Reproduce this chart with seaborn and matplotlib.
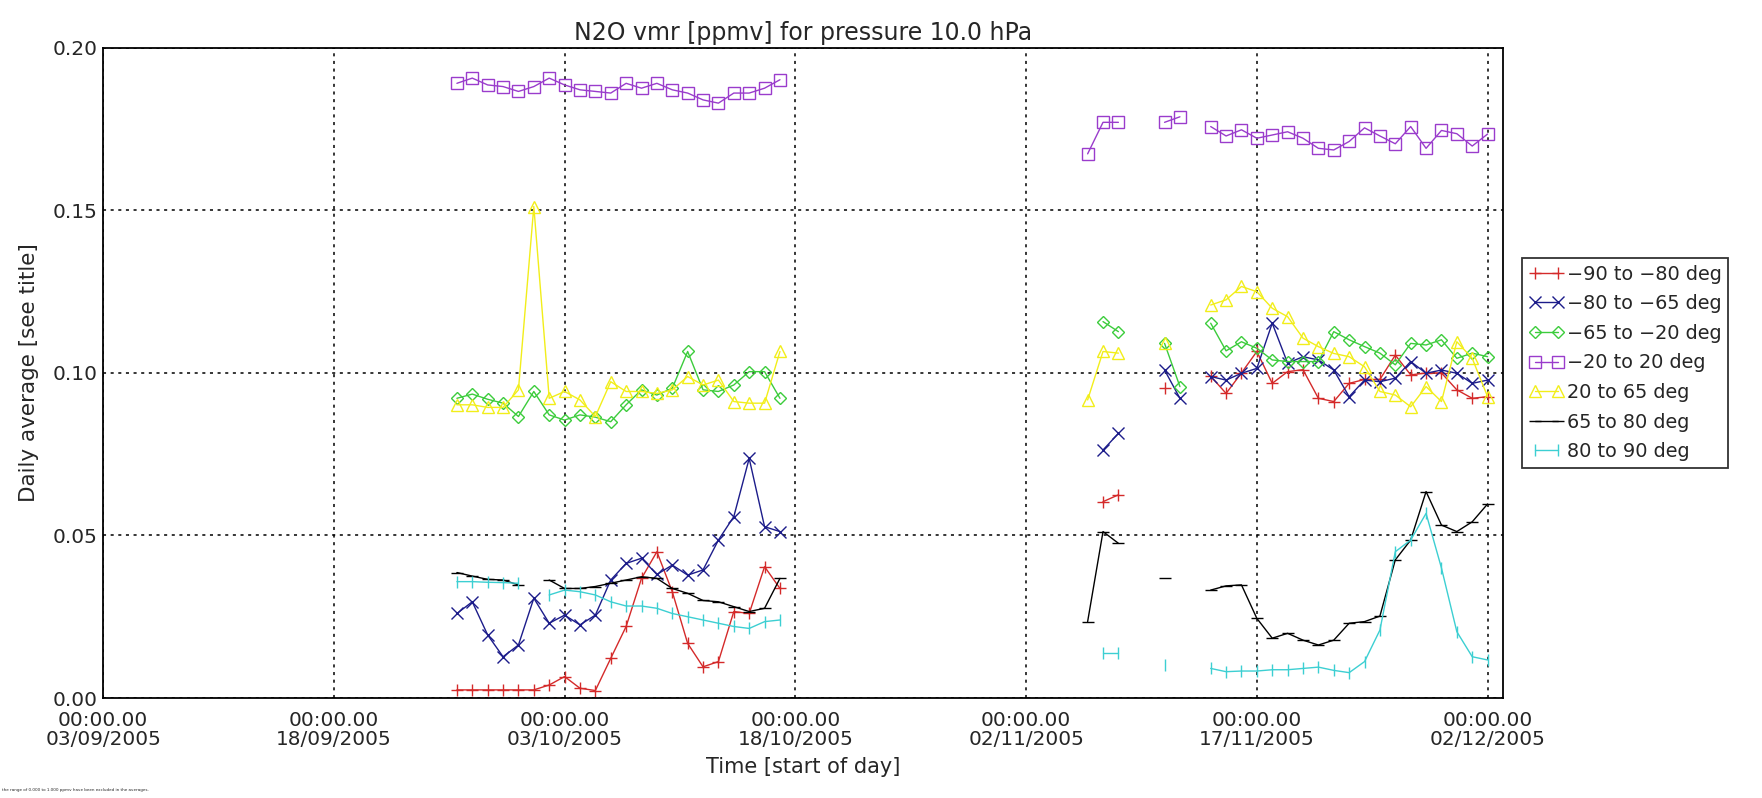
import numpy as np
import pandas as pd
import matplotlib
matplotlib.use("Agg")
import matplotlib.pyplot as plt
from matplotlib.lines import Line2D
import seaborn as sns

nan = np.nan

# --- Data (daily averages) ---
days_1 = pd.date_range("2005-09-26", "2005-10-17", freq="D")
days_2 = pd.date_range("2005-11-06", "2005-12-02", freq="D")
dates = days_1.append(days_2)

red_1 = [0.0025, 0.0025, 0.0025, 0.0025, 0.0025, 0.0025, 0.004, 0.0066, 0.003, 0.0023, 0.0122,
         0.022, 0.0368, 0.045, 0.0327, 0.0168, 0.0096, 0.0112, 0.0266, 0.026, 0.0404, 0.0337]
red_2 = [nan, 0.0604, 0.0625, nan, nan, 0.0953, nan, nan, 0.099, 0.0937, 0.100, 0.1066, 0.0968,
         0.1004, 0.101, 0.0922, 0.0912, 0.0968, 0.098, 0.098, 0.1055, 0.0994, 0.100, 0.100,
         0.0948, 0.0922, 0.0927]

blue_1 = [0.026, 0.0296, 0.0194, 0.0127, 0.0163, 0.0307, 0.023, 0.0255, 0.0225, 0.0255, 0.0363,
          0.0414, 0.043, 0.038, 0.0409, 0.0378, 0.0394, 0.0486, 0.0558, 0.0737, 0.0527, 0.0512]
blue_2 = [nan, 0.0763, 0.0814, nan, nan, 0.1009, 0.0922, nan, 0.0989, 0.0978, 0.0999, 0.1014,
          0.1153, 0.103, 0.105, 0.104, 0.1009, 0.0927, 0.0978, 0.0973, 0.0984, 0.1035, 0.0999,
          0.1009, 0.0999, 0.0968, 0.0978]

green_1 = [0.0922, 0.0935, 0.0919, 0.0907, 0.0866, 0.0943, 0.0871, 0.0855, 0.0871, 0.0864, 0.085,
           0.0902, 0.0948, 0.0932, 0.0953, 0.1066, 0.0948, 0.0943, 0.0963, 0.1004, 0.1004, 0.0922]
green_2 = [nan, 0.1158, 0.1127, nan, nan, 0.1091, 0.0958, nan, 0.1153, 0.1068, 0.1096, 0.1076,
           0.104, 0.1035, 0.1035, 0.1035, 0.1127, 0.1102, 0.1081, 0.1061, 0.1025, 0.1091, 0.1086,
           0.1102, 0.1045, 0.1061, 0.105]

purple_1 = [0.1891, 0.1907, 0.1886, 0.1881, 0.1866, 0.1881, 0.1907, 0.1886, 0.1871, 0.1866, 0.1861,
            0.1891, 0.1876, 0.1891, 0.1871, 0.1861, 0.184, 0.183, 0.1861, 0.1861, 0.1876, 0.1902]
purple_2 = [0.1674, 0.1771, 0.1771, nan, nan, 0.1771, 0.1788, nan, 0.1758, 0.1729, 0.1748, 0.1722,
            0.1732, 0.1742, 0.1722, 0.1691, 0.1686, 0.1712, 0.1754, 0.1729, 0.1705, 0.1758,
            0.1691, 0.1746, 0.1736, 0.1698, 0.1735]

yellow_1 = [0.0902, 0.0902, 0.0894, 0.0894, 0.0948, 0.1512, 0.0922, 0.0943, 0.0917, 0.0866, 0.0973,
            0.0943, 0.0943, 0.0937, 0.0948, 0.0989, 0.0963, 0.0978, 0.0912, 0.0907, 0.0907, 0.1066]
yellow_2 = [0.0917, 0.1066, 0.1061, nan, nan, 0.1091, nan, nan, 0.1209, 0.1225, 0.1266, 0.125,
            0.1199, 0.1173, 0.1107, 0.1081, 0.106, 0.105, 0.1019, 0.0943, 0.0932, 0.0896, 0.0958,
            0.0912, 0.1096, 0.1045, 0.0927]

black_1 = [0.0386, 0.0375, 0.0365, 0.0363, 0.0348, nan, 0.0363, 0.0337, 0.0337, 0.0343, 0.0353,
           0.0363, 0.0373, 0.0368, 0.0337, 0.0322, 0.030, 0.0296, 0.0281, 0.0266, 0.0276, 0.0368]
black_2 = [0.0235, 0.0512, 0.0476, nan, nan, 0.0368, nan, nan, 0.0332, 0.0345, 0.0348, 0.0245,
           0.0184, 0.0199, 0.0178, 0.0163, 0.0178, 0.023, 0.0235, 0.0252, 0.0425, 0.0486, 0.0635,
           0.0532, 0.0512, 0.0542, 0.0597]

cyan_1 = [0.0358, 0.0358, 0.0356, 0.0355, 0.0353, nan, 0.0317, 0.0332, 0.0327, 0.0317, 0.0296,
          0.0283, 0.0283, 0.0276, 0.026, 0.025, 0.024, 0.023, 0.022, 0.0214, 0.0235, 0.024]
cyan_2 = [nan, 0.0139, 0.0139, nan, nan, 0.0102, nan, nan, 0.0091, 0.0081, 0.0083, 0.0083, 0.0087,
          0.0087, 0.0091, 0.0095, 0.0085, 0.0078, 0.0112, 0.0209, 0.045, 0.0486, 0.0568, 0.040,
          0.0204, 0.0127, 0.0117]

labels = ["\u221290 to \u221280 deg", "\u221280 to \u221265 deg", "\u221265 to \u221220 deg",
          "\u221220 to 20 deg", "20 to 65 deg", "65 to 80 deg", "80 to 90 deg"]
values = [red_1 + red_2, blue_1 + blue_2, green_1 + green_2, purple_1 + purple_2,
          yellow_1 + yellow_2, black_1 + black_2, cyan_1 + cyan_2]
colors = ["#d42a2a", "#1c1c8a", "#3ccc3c", "#9a3ccc", "#f2ee1a", "#000000", "#3ccfd2"]
markers = ["+", "x", "D", "s", "^", "_", "|"]
msizes = [9, 9, 6, 9, 8, 9, 8]

tick_dates = pd.date_range("2005-09-03", periods=7, freq="15D")
tick_labels = ["00:00.00\n" + d.strftime("%d/%m/%Y") for d in tick_dates]

# --- Plot ---
sns.set_theme(style="white")
plt.rcParams["font.family"] = ["DejaVu Sans"]

fig = plt.figure(figsize=(17.62, 7.98), dpi=100)
ax = fig.add_axes([0.0585, 0.1253, 0.7945, 0.8147])

handles = []
for lab, vals, col, mk, ms in zip(labels, values, colors, markers, msizes):
    df = pd.DataFrame({"date": dates, "value": vals})
    # break the line at missing days / date gaps
    gap = df["value"].isna() | (df["date"].diff() > pd.Timedelta(days=1))
    df["run"] = gap.cumsum()
    df = df.dropna()
    hollow = mk in ("D", "s", "^")
    style = dict(marker=mk, markersize=ms, markeredgewidth=1.0, linewidth=1.0)
    if hollow:
        style["markerfacecolor"] = "none"
    sns.lineplot(data=df, x="date", y="value", units="run", estimator=None,
                 color=col, markeredgecolor=col, ax=ax, legend=False, **style)
    handles.append(Line2D([], [], color=col, markeredgecolor=col, **style))

ax.set_xlim(pd.Timestamp("2005-09-03"), pd.Timestamp("2005-12-03"))
ax.set_ylim(0, 0.2)
ax.set_xticks(tick_dates)
ax.set_xticklabels(tick_labels, fontsize=14.4, linespacing=1.0)
ax.set_yticks([0.0, 0.05, 0.10, 0.15, 0.20])
ax.set_yticklabels(["0.00", "0.05", "0.10", "0.15", "0.20"], fontsize=14.5)
ax.tick_params(axis="both", direction="in", length=5, color="black")
ax.tick_params(axis="x", pad=9)
ax.tick_params(axis="y", pad=4)
ax.grid(True, color="black", linestyle=(0, (2, 3)), linewidth=1.1)
for s in ax.spines.values():
    s.set_color("black")
    s.set_linewidth(1.3)

ax.set_title("N2O vmr [ppmv] for pressure 10.0 hPa", fontsize=17, pad=6)
ax.set_xlabel("Time [start of day]", fontsize=15, labelpad=6)
ax.set_ylabel("Daily average [see title]", fontsize=15.5, labelpad=10)

leg = fig.legend(handles, labels, loc="upper left", bbox_to_anchor=(0.864, 0.677),
                 borderaxespad=0, fontsize=13.9, numpoints=2, handlelength=1.8,
                 handletextpad=0.15, labelspacing=0.55, borderpad=0.35, frameon=True,
                 fancybox=False)
leg.get_frame().set_edgecolor("black")
leg.get_frame().set_linewidth(1.3)

fig.text(0.001, 0.008, "the range of 0.000 to 1.000 ppmv have been excluded in the averages.",
         fontsize=3, ha="left", va="bottom")

fig.savefig("out.png", dpi=100)
